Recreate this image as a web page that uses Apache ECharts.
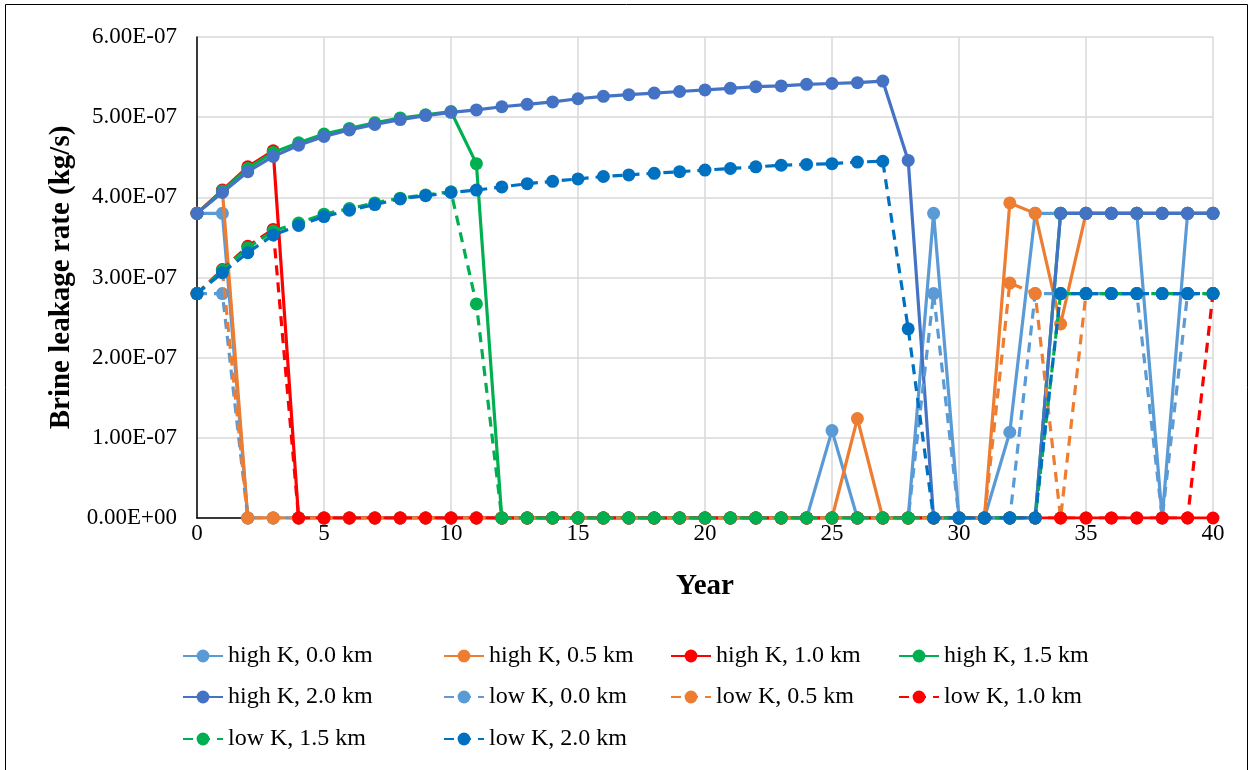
<!DOCTYPE html>
<html>
<head>
<meta charset="utf-8">
<title>Brine leakage rate</title>
<script src="https://cdn.jsdelivr.net/npm/echarts@6.0.0/dist/echarts.min.js"></script>
<style>
  html, body { margin: 0; padding: 0; background: #ffffff; }
  #chart { width: 1253px; height: 770px; }
</style>
</head>
<body>
<div id="chart"></div>
<script>
// Simulation years
const years = [0,1,2,3,4,5,6,7,8,9,10,11,12,13,14,15,16,17,18,19,20,
               21,22,23,24,25,26,27,28,29,30,31,32,33,34,35,36,37,38,39,40];

// Brine leakage rate per year, in units of 1e-7 kg/s
const highK_00 = [3.8,3.8,0,0,0,0,0,0,0,0,0,0,0,0,0,0,0,0,0,0,0,
                  0,0,0,0,1.09,0,0,0,3.8,0,0,1.07,3.8,3.8,3.8,3.8,3.8,0,3.8,3.8];
const highK_05 = [3.8,4.08,0,0,0,0,0,0,0,0,0,0,0,0,0,0,0,0,0,0,0,
                  0,0,0,0,0,1.24,0,0,0,0,0,3.93,3.8,2.42,3.8,3.8,3.8,3.8,3.8,3.8];
const highK_10 = [3.8,4.09,4.38,4.58,0,0,0,0,0,0,0,0,0,0,0,0,0,0,0,0,0,
                  0,0,0,0,0,0,0,0,0,0,0,0,0,0,0,0,0,0,0,0];
const highK_15 = [3.8,4.08,4.36,4.56,4.68,4.79,4.86,4.93,4.99,5.03,5.07,4.42,0,0,0,0,0,0,0,0,0,
                  0,0,0,0,0,0,0,0,0,0,0,0,0,3.8,3.8,3.8,3.8,3.8,3.8,3.8];
const highK_20 = [3.8,4.06,4.32,4.51,4.65,4.76,4.84,4.91,4.97,5.02,5.06,5.09,5.13,5.16,5.19,5.23,5.26,5.28,5.30,5.32,5.34,
                  5.36,5.38,5.39,5.41,5.42,5.43,5.45,4.46,0,0,0,0,0,3.8,3.8,3.8,3.8,3.8,3.8,3.8];
const lowK_00  = [2.8,2.8,0,0,0,0,0,0,0,0,0,0,0,0,0,0,0,0,0,0,0,
                  0,0,0,0,0,0,0,0,2.8,0,0,0,2.8,2.8,2.8,2.8,2.8,0,2.8,2.8];
const lowK_05  = [2.8,3.08,0,0,0,0,0,0,0,0,0,0,0,0,0,0,0,0,0,0,0,
                  0,0,0,0,0,0,0,0,0,0,0,2.93,2.8,0,2.8,2.8,2.8,2.8,2.8,2.8];
const lowK_10  = [2.8,3.1,3.39,3.6,0,0,0,0,0,0,0,0,0,0,0,0,0,0,0,0,0,
                  0,0,0,0,0,0,0,0,0,0,0,0,0,0,0,0,0,0,0,2.8];
const lowK_15  = [2.8,3.09,3.37,3.58,3.68,3.79,3.86,3.93,3.99,4.03,4.07,2.67,0,0,0,0,0,0,0,0,0,
                  0,0,0,0,0,0,0,0,0,0,0,0,0,2.8,2.8,2.8,2.8,2.8,2.8,2.8];
const lowK_20  = [2.8,3.06,3.31,3.53,3.65,3.76,3.84,3.91,3.98,4.02,4.06,4.09,4.13,4.17,4.20,4.23,4.26,4.28,4.30,4.32,4.34,
                  4.36,4.38,4.40,4.41,4.42,4.44,4.45,2.36,0,0,0,0,0,2.8,2.8,2.8,2.8,2.8,2.8,2.8];

const seriesNames = ['high K, 0.0 km','high K, 0.5 km','high K, 1.0 km','high K, 1.5 km','high K, 2.0 km',
                     'low K, 0.0 km','low K, 0.5 km','low K, 1.0 km','low K, 1.5 km','low K, 2.0 km'];
const seriesValues = [highK_00, highK_05, highK_10, highK_15, highK_20,
                      lowK_00, lowK_05, lowK_10, lowK_15, lowK_20];
const seriesColors = ['#5B9BD5','#ED7D31','#FF0000','#00B050','#4472C4',
                      '#5B9BD5','#ED7D31','#FF0000','#00B050','#0070C0'];
const UNIT = 1e-7; // kg/s

const FONT = '"Liberation Serif", "Times New Roman", serif';

function sciLabel(v) {
  if (Math.abs(v) < 1e-20) return '0.00E+00';
  const parts = v.toExponential(2).split('e');
  const sign = parts[1][0] === '-' ? '-' : '+';
  let digits = parts[1].replace(/[+-]/, '');
  if (digits.length < 2) digits = '0' + digits;
  return parts[0] + 'E' + sign + digits;
}

const series = seriesNames.map((name, i) => ({
  type: 'line',
  name: name,
  z: 2 + i,
  data: years.map((y, j) => [y, seriesValues[i][j] * UNIT]),
  symbol: 'circle',
  symbolSize: 13,
  showAllSymbol: true,
  lineStyle: { color: seriesColors[i], width: 3.2, type: i < 5 ? 'solid' : [10, 7] },
  itemStyle: { color: seriesColors[i] },
  emphasis: { disabled: true },
  animation: false
}));

// Legend entries laid out in a 4-column grid below the plot
const legendCols = [182, 443, 670, 898];
const legendRows = [644, 685, 727];
const legends = seriesNames.map((name, i) => ({
  data: [name],
  left: legendCols[i % 4],
  top: legendRows[Math.floor(i / 4)],
  padding: 0,
  itemWidth: 40,
  itemHeight: 16,
  itemGap: 0,
  selectedMode: false,
  textStyle: { fontFamily: FONT, fontSize: 24, color: '#000' }
}));

const chart = echarts.init(document.getElementById('chart'), null, { renderer: 'canvas' });
chart.setOption({
  backgroundColor: '#ffffff',
  animation: false,
  grid: { left: 197, right: 40, top: 37, bottom: 252, containLabel: false },
  xAxis: {
    type: 'value',
    min: 0, max: 40, interval: 5,
    name: 'Year',
    nameLocation: 'middle',
    nameGap: 54,
    nameTextStyle: { fontFamily: FONT, fontWeight: 'bold', fontSize: 29, color: '#000' },
    axisLine: { show: true, lineStyle: { color: '#000', width: 1.5 } },
    axisTick: { show: false },
    axisLabel: { fontFamily: FONT, fontSize: 23, color: '#000', margin: 4 },
    splitLine: { show: true, lineStyle: { color: '#D9D9D9', width: 1.5 } }
  },
  yAxis: {
    type: 'value',
    min: 0, max: 6e-7, interval: 1e-7,
    name: 'Brine leakage rate (kg/s)',
    nameLocation: 'middle',
    nameGap: 118,
    nameTextStyle: { fontFamily: FONT, fontWeight: 'bold', fontSize: 29, color: '#000' },
    axisLine: { show: true, lineStyle: { color: '#000', width: 1.5 } },
    axisTick: { show: false },
    axisLabel: { fontFamily: FONT, fontSize: 23, color: '#000', margin: 20, formatter: sciLabel },
    splitLine: { show: true, lineStyle: { color: '#D9D9D9', width: 1.5 } }
  },
  legend: legends,
  series: series,
  graphic: [{
    type: 'rect',
    silent: true,
    shape: { x: 5.5, y: 4.5, width: 1242, height: 800 },
    style: { fill: null, stroke: '#000', lineWidth: 1 }
  }]
});
</script>
</body>
</html>
